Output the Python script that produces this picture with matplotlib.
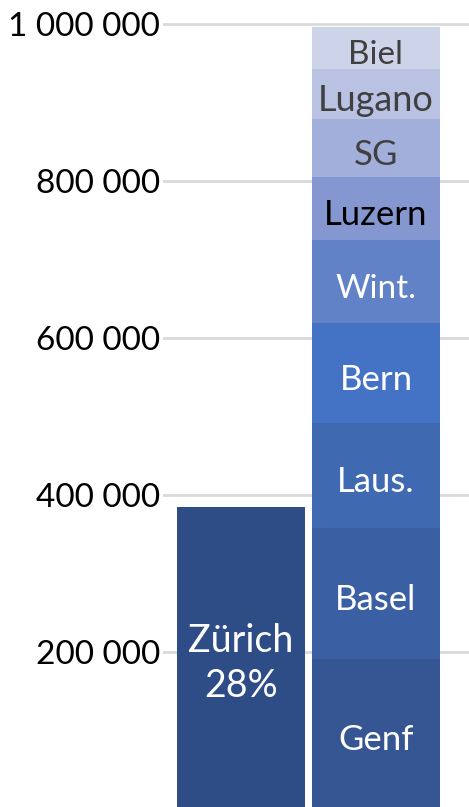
import matplotlib
matplotlib.use("Agg")
import matplotlib.pyplot as plt
from matplotlib.ticker import FuncFormatter

# ── Data ─────────────────────────────────────────────────────────────────────
zurich_label = "Zürich\n28%"
zurich_value = 384600

cities = ["Genf", "Basel", "Laus.", "Bern", "Wint.", "Luzern", "SG", "Lugano", "Biel"]
values = [190700, 167500, 133100, 128000, 105800, 80400, 74000, 63800, 53500]

colors = ["#355693", "#3A5FA3", "#3F69B0", "#4472C4", "#6282C8",
          "#8497D0", "#A2AFDA", "#B9C2E2", "#CDD3E8"]
text_colors = ["white"] * 5 + ["black", "#404040", "#404040", "#404040"]
font_sizes = [25, 25, 25, 25, 24, 25, 25, 26, 24]

yticks = [200000, 400000, 600000, 800000, 1000000]

FONT = "Lato"
CAP = 0.7165  # Lato cap height / em

fig = plt.figure(figsize=(4.69, 8.07), dpi=100)
ax = fig.add_axes([163/469, 0, 306/469, 1])

width = 128 / 135
ax.bar(0, zurich_value, width=width, color="#2E4D87", zorder=3)
ax.annotate(zurich_label, xy=(0, zurich_value / 2), xytext=(0, -4),
            textcoords="offset points", ha="center", va="center",
            color="white", fontsize=27, family=FONT, linespacing=1.3, zorder=4)

bottom = 0
for name, v, c, tc, fs in zip(cities, values, colors, text_colors, font_sizes):
    ax.bar(1, v, bottom=bottom, width=width, color=c, zorder=3)
    # baseline so that the capitals sit centred, a touch low like the original
    ax.annotate(name, xy=(1, bottom + v / 2), xytext=(0, -(CAP * fs / 2 + 3)),
                textcoords="offset points", ha="center", va="baseline",
                color=tc, fontsize=fs, family=FONT, zorder=4)
    bottom += v

ax.set_xlim(-0.578, 1.689)
ax.set_ylim(1913, 1031250)
ax.set_yticks(yticks)
ax.yaxis.set_major_formatter(FuncFormatter(lambda v, p: f"{int(v):,}".replace(",", " ")))
ax.tick_params(axis="y", length=0, pad=2, labelsize=24)
for lab in ax.get_yticklabels():
    lab.set_family(FONT)
ax.set_xticks([])
ax.grid(axis="y", color="#D9D9D9", linewidth=2, zorder=0)
for s in ax.spines.values():
    s.set_visible(False)

fig.savefig("out.png", dpi=100)
